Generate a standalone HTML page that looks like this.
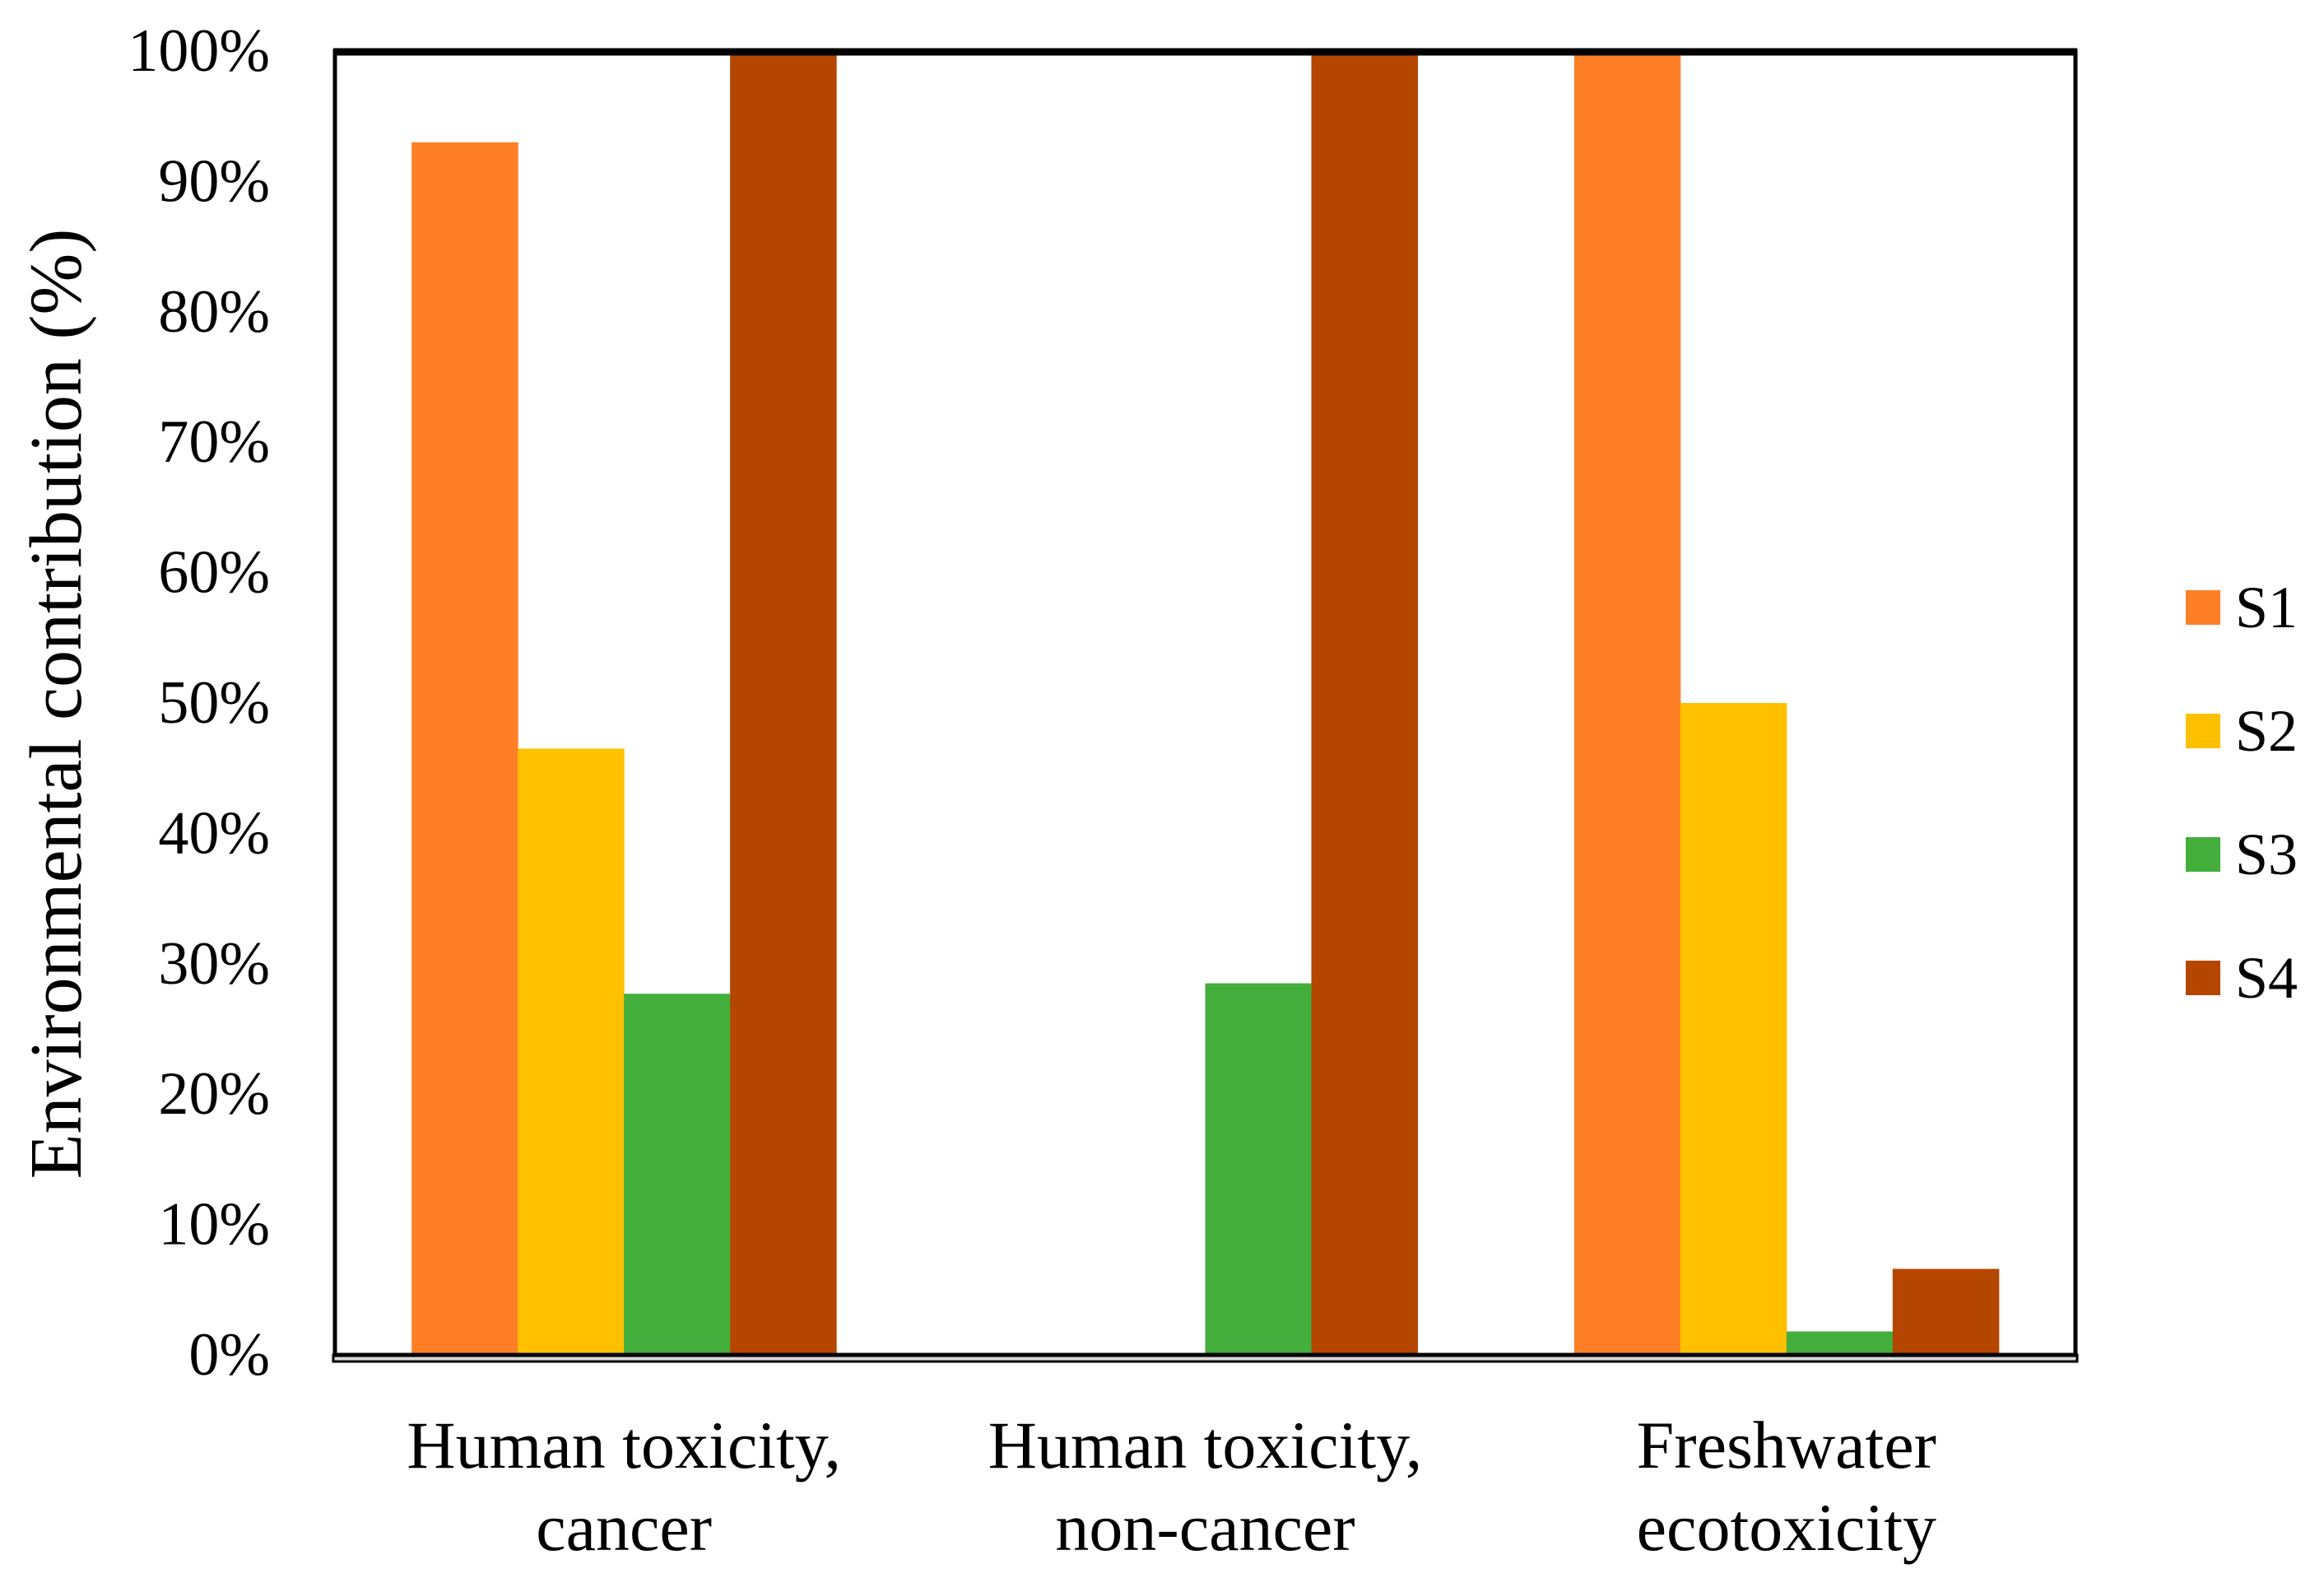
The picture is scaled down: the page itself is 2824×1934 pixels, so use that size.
<!DOCTYPE html>
<html><head><meta charset="utf-8"><style>
html,body{margin:0;padding:0;background:#fff;}
svg{display:block;font-family:"Liberation Serif",serif;}
</style></head><body>
<svg id="chart" width="2824" height="1934" viewBox="0 0 2824 1934">
<rect x="405" y="1646" width="2119" height="8" fill="#d9d9d9" stroke="#000" stroke-width="3"/>
<g id="bars"></g>
<rect x="407" y="62" width="2115" height="1584" fill="none" stroke="#000" stroke-width="5"/>
<line x1="405" y1="63" x2="2524" y2="63" stroke="#000" stroke-width="9"/>
<g id="yticks"></g>
<g id="xlabels"></g>
<text transform="translate(98,855) rotate(-90)" text-anchor="middle" font-size="90">Environmental contribution (%)</text>
<g id="legend"></g>
</svg>
<script>
const categories=[["Human toxicity,","cancer"],["Human toxicity,","non-cancer"],["Freshwater","ecotoxicity"]];
const seriesNames=["S1","S2","S3","S4"];
const colors=["#ff7f27","#ffc000","#43ae3c","#b54600"];
const s1=[93,0,100];
const s2=[46.5,0,50];
const s3=[27.7,28.5,1.8];
const s4=[100,100,6.6];
const yTicks=["0%","10%","20%","30%","40%","50%","60%","70%","80%","90%","100%"];
const series=[s1,s2,s3,s4];
const NS="http://www.w3.org/2000/svg";
const L=405,R=2524,Y0=1646,Y100=62;
const y=v=>Y0-(Y0-Y100)*v/100;
const band=(R-L)/categories.length;
const bw=129;
const bars=document.getElementById('bars');
categories.forEach((c,i)=>{
  const cx=L+band*(i+0.5);
  series.forEach((s,j)=>{
    const v=s[i]; if(!v) return;
    const r=document.createElementNS(NS,'rect');
    r.setAttribute('x',cx+(j-2)*bw);
    r.setAttribute('y',y(v));
    r.setAttribute('width',bw+0.5);
    r.setAttribute('height',Y0-y(v));
    r.setAttribute('fill',colors[j]);
    
    
    bars.appendChild(r);
  });
  const xl=document.getElementById('xlabels');
  c.forEach((line,k)=>{
    const t=document.createElementNS(NS,'text');
    t.setAttribute('x',cx);t.setAttribute('y',1783+k*100);
    t.setAttribute('text-anchor','middle');t.setAttribute('font-size','82');
    t.textContent=line;
    
    
    xl.appendChild(t);
  });
});
const yt=document.getElementById('yticks');
yTicks.forEach((lab,i)=>{
  const t=document.createElementNS(NS,'text');
  t.setAttribute('x',328);t.setAttribute('y',y(i*10)+24);
  t.setAttribute('text-anchor','end');t.setAttribute('font-size','74');
  t.textContent=lab;
  
  
  yt.appendChild(t);
});
const lg=document.getElementById('legend');
seriesNames.forEach((n,i)=>{
  const yy=738+i*150;
  const r=document.createElementNS(NS,'rect');
  r.setAttribute('x',2656);r.setAttribute('y',yy-21);r.setAttribute('width',42);r.setAttribute('height',42);
  r.setAttribute('fill',colors[i]);
  
  
  lg.appendChild(r);
  const t=document.createElementNS(NS,'text');
  t.setAttribute('x',2716);t.setAttribute('y',yy+24);t.setAttribute('font-size','72');
  t.textContent=n;
  
  
  lg.appendChild(t);
});
</script>
</body></html>
